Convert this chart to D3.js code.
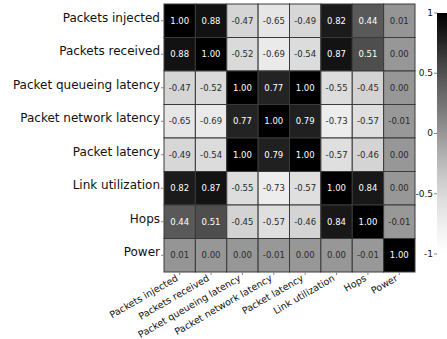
<!DOCTYPE html>
<html>
<head>
<meta charset="utf-8">
<script src="https://d3js.org/d3.v7.min.js"></script>
<style>
  body { margin: 0; background: #fff; }
  svg { display: block; font-family: "DejaVu Sans", sans-serif; }
</style>
</head>
<body>
<script>
var labels = ["Packets injected", "Packets received", "Packet queueing latency",
  "Packet network latency", "Packet latency", "Link utilization", "Hops", "Power"];

var matrix = [
  [1.00, 0.88, -0.47, -0.65, -0.49, 0.82, 0.44, 0.01],
  [0.88, 1.00, -0.52, -0.69, -0.54, 0.87, 0.51, 0.00],
  [-0.47, -0.52, 1.00, 0.77, 1.00, -0.55, -0.45, 0.00],
  [-0.65, -0.69, 0.77, 1.00, 0.79, -0.73, -0.57, -0.01],
  [-0.49, -0.54, 1.00, 0.79, 1.00, -0.57, -0.46, 0.00],
  [0.82, 0.87, -0.55, -0.73, -0.57, 1.00, 0.84, 0.00],
  [0.44, 0.51, -0.45, -0.57, -0.46, 0.84, 1.00, -0.01],
  [0.01, 0.00, 0.00, -0.01, 0.00, 0.00, -0.01, 1.00]
];

var cbarTicks = [1, 0.5, 0, -0.5, -1];

var fullwidth = 447, fullheight = 339;
var margin = {top: 4, left: 164},
    width = 251, height = 268;

var svg = d3.select("body").append("svg")
    .attr("width", fullwidth)
    .attr("height", fullheight);

var g = svg.append("g")
    .attr("transform", "translate(" + margin.left + "," + margin.top + ")");

var x = d3.scaleBand().domain(d3.range(labels.length)).range([0, width]);
var y = d3.scaleBand().domain(d3.range(labels.length)).range([0, height]);
var color = d3.scaleSequential(d3.interpolateGreys).domain([-1, 1]);

// flatten cells
var cells = [];
matrix.forEach(function(row, i) {
  row.forEach(function(v, j) { cells.push({r: i, c: j, v: v}); });
});

g.selectAll(".cell")
    .data(cells)
  .enter().append("rect")
    .attr("class", "cell")
    .attr("x", function(d) { return x(d.c); })
    .attr("y", function(d) { return y(d.r); })
    .attr("width", x.bandwidth())
    .attr("height", y.bandwidth())
    .style("fill", function(d) { return color(d.v); })
    .style("stroke", "#3a3a3a")
    .style("stroke-width", 1);

g.selectAll(".val")
    .data(cells)
  .enter().append("text")
    .attr("class", "val")
    .attr("x", function(d) { return x(d.c) + x.bandwidth() / 2; })
    .attr("y", function(d) { return y(d.r) + y.bandwidth() / 2; })
    .attr("dy", "0.36em")
    .style("text-anchor", "middle")
    .style("font-size", "8.5px")
    .style("fill", function(d) { return d.v > 0.3 ? "#fff" : "#2a2a2a"; })
    .text(function(d) { return d.v.toFixed(2); });

// y labels
var yl = g.selectAll(".ylab")
    .data(labels)
  .enter().append("g")
    .attr("transform", function(d, i) { return "translate(0," + (y(i) + y.bandwidth() / 2) + ")"; });
yl.append("line")
    .attr("x1", -3).attr("x2", 0)
    .style("stroke", "#888");
yl.append("text")
    .attr("x", -4)
    .attr("dy", "0.1em")
    .style("text-anchor", "end")
    .style("font-size", "12px")
    .style("fill", "#111")
    .text(function(d) { return d; });

// x labels
var xl = g.selectAll(".xlab")
    .data(labels)
  .enter().append("g")
    .attr("transform", function(d, i) { return "translate(" + (x(i) + x.bandwidth() / 2) + "," + height + ")"; });
xl.append("line")
    .attr("y1", 0).attr("y2", 3)
    .style("stroke", "#888");
xl.append("text")
    .attr("transform", "translate(-1,8) rotate(-30)")
    .style("text-anchor", "end")
    .style("font-size", "9.5px")
    .style("fill", "#111")
    .text(function(d) { return d; });

// colorbar
var cb = {x: 437, top: 13, bottom: 254, w: 14};
var cy = d3.scaleLinear().domain([1, -1]).range([cb.top, cb.bottom]);

var grad = svg.append("defs").append("linearGradient")
    .attr("id", "cbar")
    .attr("x1", 0).attr("y1", 0).attr("x2", 0).attr("y2", 1);
d3.range(0, 1.01, 0.1).forEach(function(t) {
  grad.append("stop")
      .attr("offset", t)
      .attr("stop-color", color(1 - 2 * t));
});

svg.append("rect")
    .attr("x", cb.x)
    .attr("y", cb.top)
    .attr("width", cb.w)
    .attr("height", cb.bottom - cb.top)
    .style("fill", "url(#cbar)");

var ct = svg.selectAll(".ctick")
    .data(cbarTicks)
  .enter().append("g")
    .attr("transform", function(d) { return "translate(" + cb.x + "," + cy(d) + ")"; });
ct.append("line")
    .attr("x1", -3).attr("x2", 0)
    .style("stroke", "#888");
ct.append("text")
    .attr("x", -4)
    .attr("dy", "0.32em")
    .style("text-anchor", "end")
    .style("font-size", "9px")
    .style("fill", "#111")
    .text(function(d) { return d; });
</script>
</body>
</html>
